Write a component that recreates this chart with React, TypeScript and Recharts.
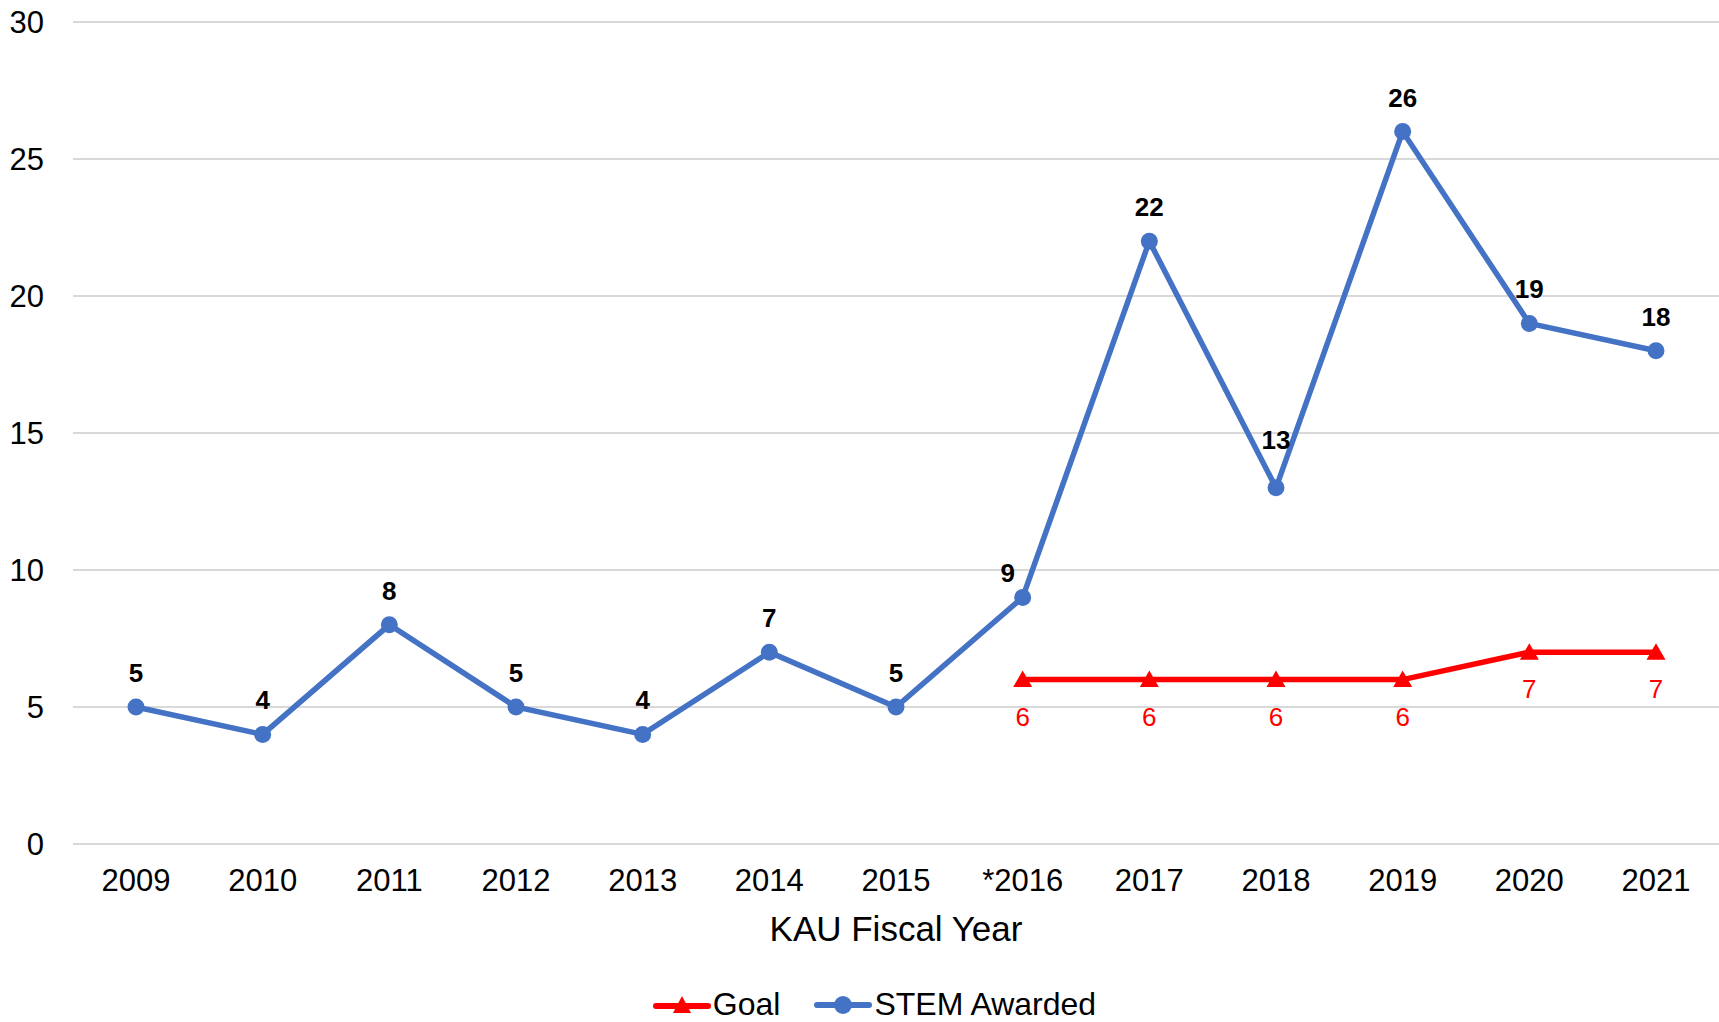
import { LineChart, Line, XAxis, YAxis, CartesianGrid, Legend, LabelList, Label } from "recharts";

const years = ["2009", "2010", "2011", "2012", "2013", "2014", "2015", "*2016", "2017", "2018", "2019", "2020", "2021"];
const stemAwarded = [5, 4, 8, 5, 4, 7, 5, 9, 22, 13, 26, 19, 18];
const goal: (number | null)[] = [null, null, null, null, null, null, null, 6, 6, 6, 6, 7, 7];
const yTicks = [0, 5, 10, 15, 20, 25, 30];

const data = years.map((year, i) => ({ year, stem: stemAwarded[i], goal: goal[i] }));

const FONT = "'Liberation Sans', Arial, sans-serif";
const BLUE = "#4472c4";
const RED = "#ff0000";

const Triangle = (props: any) => {
    const { cx, cy, key } = props;
    if (cx == null || cy == null || props.value == null) return <g key={key} />;
    return <polygon key={key} points={`${cx},${cy - 9} ${cx + 9.5},${cy + 7.5} ${cx - 9.5},${cy + 7.5}`} fill={RED} />;
};

// Excel nudged a couple of labels off the line
const labelNudge: Record<number, [number, number]> = { 7: [-15, 10], 9: [0, -14] };

const StemLabel = (props: any) => {
    const { x, y, value, index } = props;
    const [dx, dy] = labelNudge[index] || [0, 0];
    return (
        <text x={x + dx} y={y - 25 + dy} textAnchor="middle" fontFamily={FONT} fontSize={26} fontWeight="bold" fill="#000">
            {value}
        </text>
    );
};

const GoalLabel = (props: any) => {
    const { x, y, value } = props;
    if (value == null) return null;
    return (
        <text x={x} y={y + 46} textAnchor="middle" fontFamily={FONT} fontSize={26} fill={RED}>
            {value}
        </text>
    );
};

const LegendContent = () => (
    <div
        style={{
            display: "flex",
            justifyContent: "center",
            alignItems: "center",
            fontFamily: FONT,
            fontSize: 32,
            color: "#000",
            paddingTop: 33,
            paddingLeft: 30,
            height: 35,
        }}
    >
        <svg width={58} height={22} style={{ marginRight: 2 }}>
            <line x1={3} y1={12} x2={55} y2={12} stroke={RED} strokeWidth={6} strokeLinecap="round" />
            <polygon points="29,2 38,19 20,19" fill={RED} />
        </svg>
        <span style={{ marginRight: 34 }}>Goal</span>
        <svg width={58} height={22} style={{ marginRight: 2 }}>
            <line x1={3} y1={11} x2={55} y2={11} stroke={BLUE} strokeWidth={6} strokeLinecap="round" />
            <circle cx={29} cy={11} r={9} fill={BLUE} />
        </svg>
        <span>STEM Awarded</span>
    </div>
);

export default function App() {
    return (
        <div style={{ position: "absolute", left: 0, top: 0, background: "#fff" }}>
            <LineChart width={1719} height={1022} data={data} margin={{ top: 22, right: 0, left: 0, bottom: 0 }}>
                <CartesianGrid vertical={false} stroke="#d9d9d9" strokeWidth={2} />
                <XAxis
                    dataKey="year"
                    axisLine={false}
                    tickLine={false}
                    tickSize={0}
                    tickMargin={25}
                    height={110}
                    padding={{ left: 63, right: 63 }}
                    tick={{ fontFamily: FONT, fontSize: 31, fill: "#000" }}
                    interval={0}
                >
                    <Label value="KAU Fiscal Year" position="insideBottom" offset={13} style={{ fontFamily: FONT, fontSize: 35, fill: "#000" }} />
                </XAxis>
                <YAxis
                    domain={[0, 30]}
                    ticks={yTicks}
                    axisLine={false}
                    tickLine={false}
                    tickSize={0}
                    tickMargin={29}
                    width={73}
                    tick={{ fontFamily: FONT, fontSize: 31, fill: "#000" }}
                />
                <Legend verticalAlign="bottom" height={68} content={<LegendContent />} />
                <Line
                    dataKey="goal"
                    stroke={RED}
                    strokeWidth={5.5}
                    dot={<Triangle />}
                    activeDot={false}
                    connectNulls={false}
                    isAnimationActive={false}
                >
                    <LabelList dataKey="goal" content={<GoalLabel />} />
                </Line>
                <Line
                    dataKey="stem"
                    stroke={BLUE}
                    strokeWidth={5.5}
                    dot={{ r: 8.5, fill: BLUE, stroke: BLUE, strokeWidth: 0 }}
                    activeDot={false}
                    isAnimationActive={false}
                >
                    <LabelList dataKey="stem" content={<StemLabel />} />
                </Line>
            </LineChart>
        </div>
    );
}
